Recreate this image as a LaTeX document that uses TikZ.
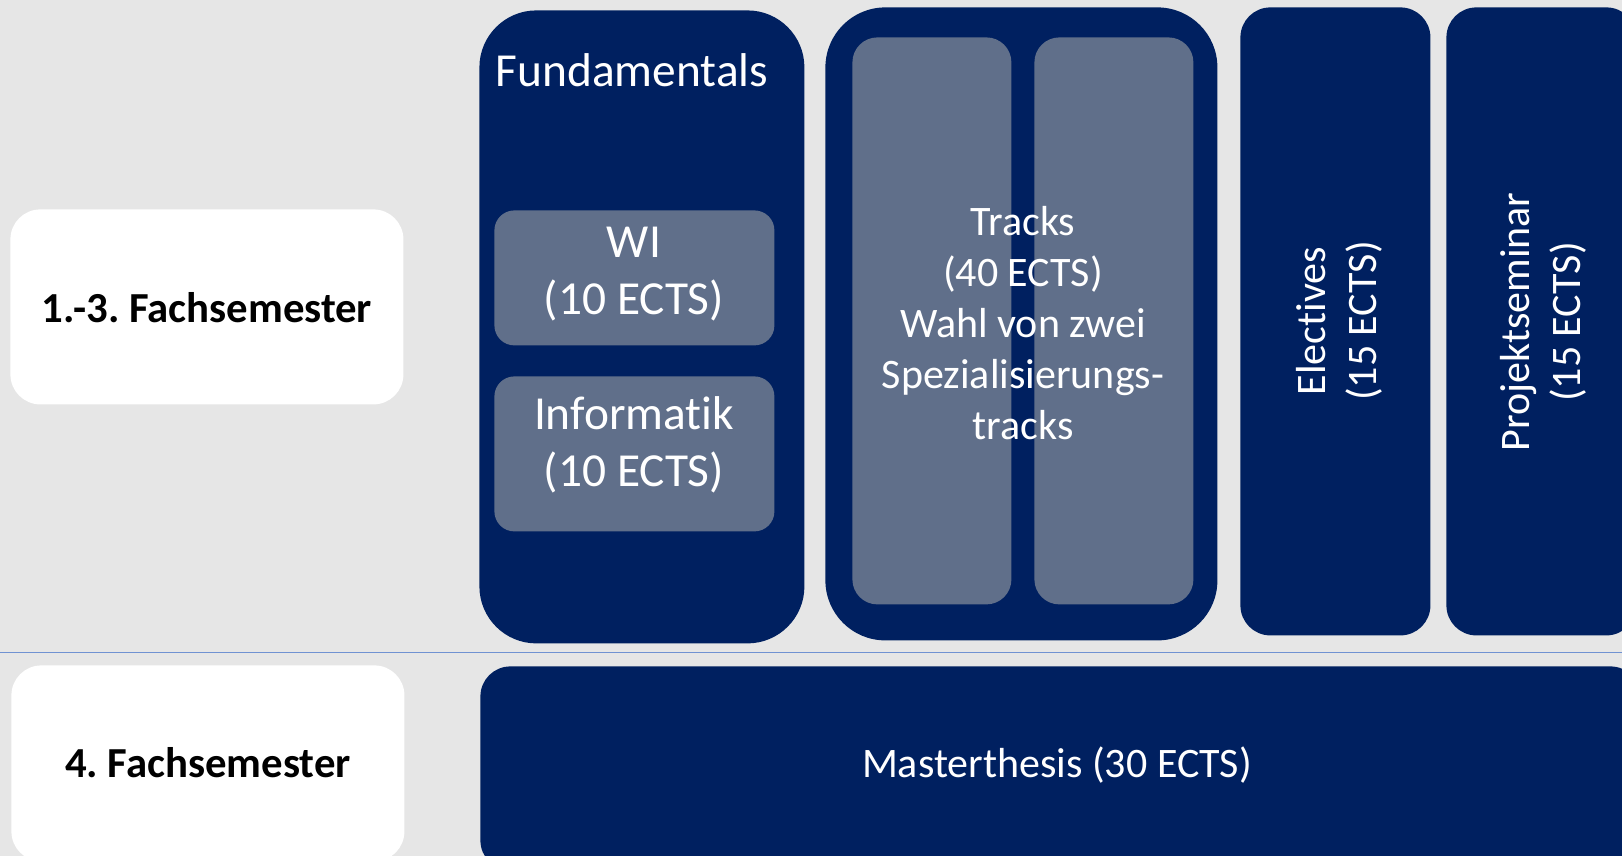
\documentclass[tikz,border=0pt]{standalone}
\usepackage{fontspec}
\setmainfont{Carlito}[Ligatures=NoCommon]
\definecolor{navy}{RGB}{0,32,96}
\definecolor{slate}{RGB}{96,111,138}
\definecolor{bggray}{RGB}{230,230,230}
\definecolor{sepblue}{RGB}{112,146,210}
\frenchspacing
\begin{document}
\begin{tikzpicture}[x=0.5pt,y=-0.5pt,
  boxbase/.style={anchor=north west, inner sep=0pt, draw=none},
  navybox/.style={boxbase, fill=navy},
  slatebox/.style={boxbase, fill=slate},
  whitebox/.style={boxbase, fill=white},
  bigtxt/.style={font=\fontsize{23.7}{28.5}\selectfont, text=white, align=center, inner sep=0pt},
  midtxt/.style={font=\fontsize{21}{25.6}\selectfont, text=white, align=center, inner sep=0pt},
  labtxt/.style={font=\fontsize{21.4}{26}\selectfont\bfseries, text=black, align=center, inner sep=0pt}]
\path[use as bounding box] (0,0) rectangle (1622,856);
\fill[bggray] (0,0) rectangle (1622,856);
\clip (0,0) rectangle (1622,856);

% semester labels
\node[whitebox, rounded corners=15pt, minimum width=196.5pt, minimum height=97.5pt] (sem1) at (10,209) {};
\node[labtxt] (sem1t) at (207,308) {1.-3. Fachsemester};
\node[whitebox, rounded corners=15pt, minimum width=196.5pt, minimum height=98pt] (sem4) at (11,665) {};
\node[labtxt] (sem4t) at (208,763) {4. Fachsemester};

% separator
\coordinate (sepL) at (0,652.5);
\coordinate (sepR) at (1622,652.5);
\draw[sepblue, line width=0.9pt] (sepL) -- (sepR);

% fundamentals
\node[navybox, rounded corners=28.5pt, minimum width=162.5pt, minimum height=316.5pt] (fund) at (479,10) {};
\node[bigtxt] (fundt) at (632,70) {Fundamentals};
\node[slatebox, rounded corners=10pt, minimum width=140pt, minimum height=67.5pt] (wi) at (494,210) {};
\node[bigtxt] (wit) at (634,274) {WI\\(10 ECTS)};
\node[slatebox, rounded corners=10pt, minimum width=140pt, minimum height=77.5pt] (inf) at (494,376) {};
\node[bigtxt] (inft) at (634,445) {Informatik\\(10 ECTS)};

% tracks
\node[navybox, rounded corners=30pt, minimum width=196pt, minimum height=316.5pt] (tracks) at (825,7) {};
\node[slatebox, rounded corners=12.5pt, minimum width=79.5pt, minimum height=283.5pt] (t1) at (852,37) {};
\node[slatebox, rounded corners=12.5pt, minimum width=79.5pt, minimum height=283.5pt] (t2) at (1034,37) {};
\node[midtxt] (trackst) at (1023,323) {Tracks\\(40 ECTS)\\Wahl von zwei\\Spezialisierungs-\\tracks};

% electives and projektseminar
\node[navybox, rounded corners=15pt, minimum width=95pt, minimum height=314pt] (elec) at (1240,7) {};
\node[midtxt, rotate=90] (elect) at (1339,321) {Electives\\(15 ECTS)};
\node[navybox, rounded corners=15pt, minimum width=95pt, minimum height=314pt] (proj) at (1446,7) {};
\node[midtxt, rotate=90] (projt) at (1543,322) {Projektseminar\\(15 ECTS)};

% master thesis
\node[navybox, rounded corners=15pt, minimum width=580pt, minimum height=102pt] (master) at (480,666) {};
\node[midtxt] (mastert) at (1057,765) {Masterthesis (30 ECTS)};
\end{tikzpicture}
\end{document}
